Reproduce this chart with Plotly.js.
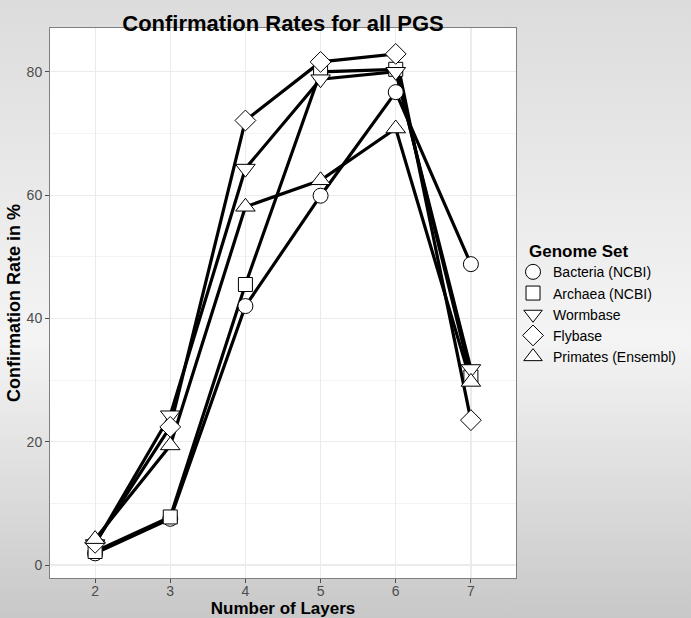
<!DOCTYPE html>
<html>
<head>
<meta charset="utf-8">
<script src="https://cdn.plot.ly/plotly-3.0.1.min.js"></script>
<style>
  html, body { margin: 0; padding: 0; }
  body { width: 691px; height: 618px; background: linear-gradient(to bottom, #dcdcdc 0%, #f2f2f2 50%, #f4f4f4 55%, #c8c8c8 100%); }
  #chart { width: 691px; height: 618px; }
</style>
</head>
<body>
<div id="chart"></div>
<script>
const layers = [2, 3, 4, 5, 6, 7];
const seriesNames = ["Bacteria (NCBI)", "Archaea (NCBI)", "Wormbase", "Flybase", "Primates (Ensembl)"];
const bacteria = [1.9, 7.5, 42.0, 59.9, 76.7, 48.8];
const archaea  = [2.2, 7.8, 45.5, 80.0, 80.4, 30.5];
const wormbase = [3.4, 24.3, 64.3, 78.8, 80.0, 31.8];
const flybase  = [3.6, 22.4, 72.1, 81.6, 82.9, 23.5];
const primates = [4.2, 19.4, 58.1, 62.4, 70.8, 29.7];

const values = [bacteria, archaea, wormbase, flybase, primates];
const traces = [];
values.forEach((v, i) => {
  traces.push({
    x: layers, y: v, type: "scatter", mode: "lines",
    line: {color: "#000000", width: 3.2}, showlegend: false, hoverinfo: "skip"
  });
});
const markerSyms = ["circle", "square", "triangle-down", "diamond", "triangle-up"];
const markerSizes = [15, 14, 17, 16, 17];
values.forEach((v, i) => {
  traces.push({
    x: layers, y: v, type: "scatter", mode: "markers", name: seriesNames[i],
    marker: {symbol: markerSyms[i], size: markerSizes[i], color: "#ffffff", line: {color: "#000000", width: 1}}
  });
});

const layout = {
  width: 691, height: 618,
  paper_bgcolor: "rgba(0,0,0,0)",
  plot_bgcolor: "#ffffff",
  margin: {l: 50, r: 175, t: 28, b: 40, autoexpand: false},
  font: {family: "Liberation Sans, Arial, sans-serif", color: "#000000"},
  title: {text: "<b>Confirmation Rates for all PGS</b>", font: {size: 22, color: "#000000"},
          x: 0.5, xref: "paper", xanchor: "center", y: 0.962, yref: "container", yanchor: "middle"},
  xaxis: {
    range: [1.4, 7.6], tickvals: layers, ticktext: layers.map(String),
    showgrid: true, gridcolor: "#ebebeb", gridwidth: 1.2, zeroline: false,
    showline: true, linecolor: "#7f7f7f", linewidth: 1, mirror: true,
    ticks: "outside", ticklen: 4, tickcolor: "#4d4d4d", tickfont: {size: 14, color: "#4d4d4d"},
    ticklabelstandoff: -4,
    title: {text: "<b>Number of Layers</b>", font: {size: 17, color: "#000000"}, standoff: 2}
  },
  yaxis: {
    range: [-2.1, 87.1], tickvals: [0, 20, 40, 60, 80],
    showgrid: true, gridcolor: "#ebebeb", gridwidth: 1.2, zeroline: false,
    minor: {dtick: 10, tick0: 0, showgrid: true, gridcolor: "#f3f3f3", gridwidth: 1, ticks: ""},
    showline: true, linecolor: "#7f7f7f", linewidth: 1, mirror: true,
    ticks: "outside", ticklen: 4, tickcolor: "#4d4d4d", tickfont: {size: 14, color: "#4d4d4d"},
    title: {text: "<b>Confirmation Rate in %</b>", font: {size: 18, color: "#000000"}, standoff: 1}
  },
  legend: {
    x: 0.9936, xanchor: "left", xref: "paper", y: 0.585, yanchor: "top", yref: "paper",
    bgcolor: "rgba(0,0,0,0)", borderwidth: 0, font: {size: 14, color: "#000000"},
    tracegroupgap: 0, itemclick: false
  },
  annotations: [{
    text: "<b>Genome Set</b>", xref: "paper", yref: "paper", x: 1.0236, y: 0.593,
    xanchor: "left", yanchor: "middle", showarrow: false, font: {size: 17, color: "#000000"}
  }],
  showlegend: true
};

Plotly.newPlot("chart", traces, layout, {displayModeBar: false, staticPlot: true});
</script>
</body>
</html>
